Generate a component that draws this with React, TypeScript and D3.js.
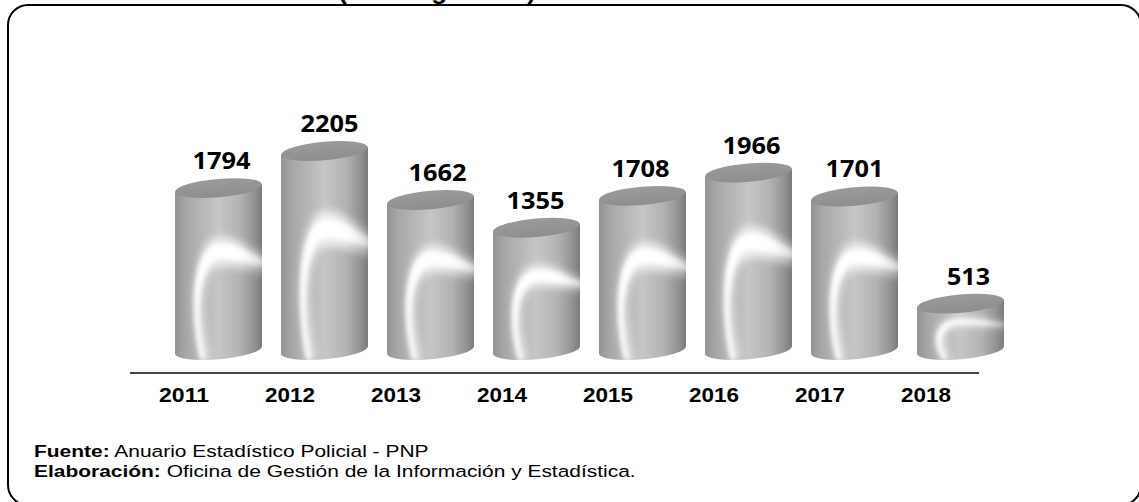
import React, { useEffect, useRef } from 'react';
import { select, scaleBand, scaleLinear, axisBottom } from 'd3';

const years = ['2011', '2012', '2013', '2014', '2015', '2016', '2017', '2018'];
const counts = [1794, 2205, 1662, 1355, 1708, 1966, 1701, 513];
const labelNudge = [3, 5, 7, -1, -2, 3, 0, 8];

const WIDTH = 1139;
const HEIGHT = 502;
const RX = 43.5;
const RY = 9.2;
const TILT = -5;
const TILT_RAD = (TILT * Math.PI) / 180;

const Chart = () => {
  const svgRef = useRef<SVGSVGElement>(null);

  useEffect(() => {
    const svg = select(svgRef.current);
    svg.selectAll('*').remove();

    const x = scaleBand().domain(years).range([175, 1004]).paddingInner(0.179);
    const y = scaleLinear().domain([0, 2205]).range([350, 151]);
    const w = x.bandwidth();
    const dy = (w / 2) * Math.sin(TILT_RAD);

    const defs = svg.append('defs');

    const body = defs.append('linearGradient').attr('id', 'body');
    [
      [0, '#929292'],
      [0.12, '#a6a6a6'],
      [0.5, '#c6c6c6'],
      [0.75, '#b2b2b2'],
      [0.92, '#909090'],
      [1, '#7a7a7a'],
    ].forEach(([o, c]) => body.append('stop').attr('offset', o).attr('stop-color', c));

    const cap = defs.append('linearGradient').attr('id', 'cap').attr('x2', 0).attr('y2', 1);
    cap.append('stop').attr('offset', 0).attr('stop-color', '#9a9a9a');
    cap.append('stop').attr('offset', 1).attr('stop-color', '#8e8e8e');

    const fade = defs.append('linearGradient').attr('id', 'fade');
    fade.append('stop').attr('offset', 0).attr('stop-color', '#fff');
    fade.append('stop').attr('offset', 0.6).attr('stop-color', '#fff');
    fade.append('stop').attr('offset', 1).attr('stop-color', '#fff').attr('stop-opacity', 0.4);

    [['soft', 4.5], ['core', 2]].forEach(([id, s]) => {
      defs.append('filter').attr('id', id)
        .attr('x', '-40%').attr('y', '-40%').attr('width', '180%').attr('height', '180%')
        .append('feGaussianBlur').attr('stdDeviation', s);
    });

    // Frame runs past the right and bottom edges of the picture
    svg.append('rect')
      .attr('x', 8).attr('y', 5)
      .attr('width', 1133).attr('height', 500)
      .attr('rx', 20)
      .attr('fill', 'none').attr('stroke', '#000').attr('stroke-width', 2);

    // Title is cut off by the top edge, only descenders show
    svg.append('text')
      .attr('x', 338).attr('y', -1)
      .attr('textLength', 198).attr('lengthAdjust', 'spacingAndGlyphs')
      .attr('font-family', 'Liberation Sans').attr('font-weight', 'bold').attr('font-size', 26)
      .text('(en kilogramos)');

    const bodyPath = (d: string, i: number) => {
      const l = x(d);
      const r = l + w;
      const top = y(counts[i]);
      const bottom = y(0);
      return `M${l},${top - dy} L${l},${bottom - dy} A${RX},${RY} ${TILT} 0 0 ${r},${bottom + dy} L${r},${top + dy} Z`;
    };

    // Highlight crescent, scaled to the bar height
    const crescent = (d: string, i: number, outer: number, inner: number, edgeOuter: number, edgeInner: number, stem: number) => {
      const l = x(d);
      const b = y(0);
      const h = b - y(counts[i]);
      const px = (f: number) => l + f * w;
      const py = (f: number) => b - f * h;
      return `M${px(0.3)},${b + 10}
        C${px(0.16)},${py(0.25)} ${px(0.2)},${py(outer)} ${px(0.52)},${py(outer)}
        C${px(0.72)},${py(outer)} ${px(0.82)},${py(edgeOuter + 0.04)} ${px(1.05)},${py(edgeOuter)}
        L${px(1.05)},${py(edgeInner)}
        C${px(0.85)},${py(edgeInner + 0.02)} ${px(0.72)},${py(inner)} ${px(0.52)},${py(inner)}
        C${px(0.3)},${py(inner)} ${px(0.16 + stem)},${py(0.25)} ${px(0.3 + stem)},${b + 10} Z`;
    };

    years.forEach((d, i) => {
      defs.append('clipPath').attr('id', `clip-${i}`).append('path').attr('d', bodyPath(d, i));
    });

    const bars = svg.selectAll('g.bar').data(years).enter().append('g').attr('class', 'bar');

    bars.append('path').attr('d', bodyPath).attr('fill', 'url(#body)');

    const glow = bars.append('g').attr('clip-path', (_, i) => `url(#clip-${i})`);

    glow.append('path')
      .attr('d', (d, i) => crescent(d, i, 0.7, 0.52, 0.59, 0.47, 0.1))
      .attr('fill', 'url(#fade)')
      .attr('opacity', 0.75)
      .attr('filter', 'url(#soft)');

    glow.append('path')
      .attr('d', (d, i) => crescent(d, i, 0.655, 0.565, 0.56, 0.51, 0.05))
      .attr('fill', 'url(#fade)')
      .attr('opacity', 0.95)
      .attr('filter', 'url(#core)');

    bars.append('ellipse')
      .attr('rx', RX).attr('ry', RY)
      .attr('transform', (d, i) => `translate(${x(d) + w / 2},${y(counts[i])}) rotate(${TILT})`)
      .attr('fill', 'url(#cap)');

    bars.append('text')
      .attr('x', (d, i) => x(d) + w / 2 + labelNudge[i])
      .attr('y', (_, i) => y(counts[i]) - 19)
      .attr('text-anchor', 'middle')
      .attr('textLength', (_, i) => (counts[i] < 1000 ? 43 : 58))
      .attr('lengthAdjust', 'spacingAndGlyphs')
      .attr('font-family', 'Open Sans').attr('font-weight', 'bold').attr('font-size', 23.5)
      .attr('fill', '#000')
      .text((_, i) => counts[i]);

    // Axis labels sit left of the bars, as in the source
    const xLabels = x.copy().range([175 - 34.5, 1004 - 34.5]);
    const axis = svg.append('g')
      .attr('transform', 'translate(0,373)')
      .call(axisBottom(xLabels).tickSize(0).tickPadding(15));
    axis.select('.domain').remove();
    axis.selectAll('text')
      .attr('font-family', 'Liberation Sans').attr('font-weight', 'bold').attr('font-size', 19.5)
      .attr('textLength', 50).attr('lengthAdjust', 'spacingAndGlyphs')
      .attr('fill', '#000');

    svg.append('line')
      .attr('x1', 130).attr('x2', 979)
      .attr('y1', 373).attr('y2', 373)
      .attr('stroke', '#444').attr('stroke-width', 2.2);

    const notes = [
      ['Fuente:', ' Anuario Estadístico Policial - PNP'],
      ['Elaboración:', ' Oficina de Gestión de la Información y Estadística.'],
    ];
    notes.forEach(([head, rest], i) => {
      // The source picture is stretched sideways
      const t = svg.append('text')
        .attr('transform', `translate(34,${457 + i * 20}) scale(1.27,1)`)
        .attr('font-family', 'Liberation Sans').attr('font-size', 16.5)
        .attr('fill', '#000')
        .attr('xml:space', 'preserve');
      t.append('tspan').attr('font-weight', 'bold').text(head);
      t.append('tspan').text(rest);
    });
  }, []);

  return (
    <svg
      ref={svgRef}
      width={WIDTH}
      height={HEIGHT}
      style={{ position: 'absolute', left: 0, top: 0, background: '#fff' }}
    />
  );
};

export default function App() {
  return <Chart />;
}
